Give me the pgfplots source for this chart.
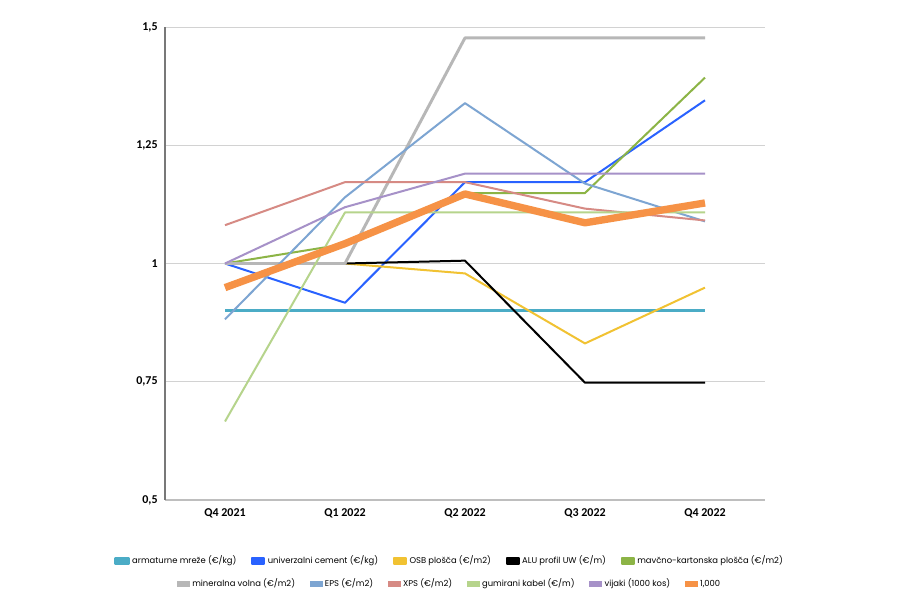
\documentclass[border=0pt]{standalone}
\usepackage{pgfplots}
\pgfplotsset{compat=1.18}
\usepackage{fontspec}
\setmainfont{Carlito}
\newfontfamily\legfont{Poppins}
\definecolor{cteal}{RGB}{75,172,198}
\definecolor{cblue}{RGB}{41,98,255}
\definecolor{cyellow}{RGB}{241,194,50}
\definecolor{cgreen}{RGB}{140,180,70}
\definecolor{cgray}{RGB}{183,183,183}
\definecolor{ceps}{RGB}{125,165,210}
\definecolor{cxps}{RGB}{214,138,132}
\definecolor{clgreen}{RGB}{182,212,140}
\definecolor{cpurple}{RGB}{166,145,200}
\definecolor{corange}{RGB}{246,146,70}
\pgfplotsset{
  mylegend/.style={
    legend columns=-1,
    legend style={draw=none, fill=none, font=\legfont\fontsize{6.3}{7}\selectfont,
      /tikz/every even column/.append style={column sep=9pt},
      inner sep=0pt},
    legend image code/.code={\fill[##1] (0pt,-2pt) rectangle (9pt,2pt);},
  }
}
\begin{document}
\begin{tikzpicture}
\path[use as bounding box, fill=white] (0,0) rectangle (675pt,450pt);
\begin{axis}[
  at={(123.75pt,75pt)}, anchor=south west,
  scale only axis, width=450pt, height=354.75pt,
  xmin=-0.5, xmax=4.5, ymin=0.5, ymax=1.5,
  xtick={0,1,2,3,4},
  xticklabels={Q4 2021,Q1 2022,Q2 2022,Q3 2022,Q4 2022},
  ytick={0.5,0.75,1,1.25,1.5},
  /pgf/number format/use comma,
  /pgf/number format/fixed,
  /pgf/number format/precision=2,
  /pgf/number format/assume math mode=true,
  ticklabel style={font=\bfseries\fontsize{9}{10}\selectfont},
  xticklabel style={yshift=-3pt},
  yticklabel style={xshift=-2pt},
  major tick length=0pt,
  axis x line=bottom, axis y line=left,
  x axis line style={-, draw={rgb,255:red,190;green,190;blue,190}, line width=0.8pt},
  y axis line style={-, draw={rgb,255:red,120;green,120;blue,120}, line width=0.8pt},
  ymajorgrids, grid style={draw={rgb,255:red,210;green,210;blue,210}, line width=0.7pt},
  mylegend,
  legend style={at={(0.475,-0.129)}, anchor=center},
  line join=round,
]
\addplot[color=cteal, line width=2.3pt] coordinates {(0,0.9) (1,0.9) (2,0.9) (3,0.9) (4,0.9)};
\addlegendentry{armaturne mreže (€/kg)}
\addplot[color=cblue, line width=1.5pt] coordinates {(0,1.0) (1,0.917) (2,1.172) (3,1.172) (4,1.345)};
\addlegendentry{univerzalni cement (€/kg)}
\addplot[color=cyellow, line width=1.5pt] coordinates {(1,1.0) (2,0.979) (3,0.831) (4,0.949)};
\addlegendentry{OSB plošča (€/m2)}
\addplot[color=black, line width=1.5pt] coordinates {(1,1.0) (2,1.006) (3,0.748) (4,0.748)};
\addlegendentry{ALU profil UW (€/m)}
\addplot[color=cgreen, line width=1.5pt] coordinates {(0,1.0) (1,1.041) (2,1.149) (3,1.149) (4,1.393)};
\addlegendentry{mavčno-kartonska plošča (€/m2)}
\addplot[color=cgray, line width=2.2pt, forget plot] coordinates {(0,1.0) (1,1.0) (2,1.477) (3,1.477) (4,1.477)};
\addplot[color=ceps, line width=1.5pt, forget plot] coordinates {(0,0.882) (1,1.14) (2,1.339) (3,1.169) (4,1.089)};
\addplot[color=cxps, line width=1.5pt, forget plot] coordinates {(0,1.081) (1,1.172) (2,1.172) (3,1.116) (4,1.091)};
\addplot[color=clgreen, line width=1.5pt, forget plot] coordinates {(0,0.666) (1,1.108) (2,1.108) (3,1.108) (4,1.108)};
\addplot[color=cpurple, line width=1.5pt, forget plot] coordinates {(0,1.0) (1,1.119) (2,1.19) (3,1.19) (4,1.19)};
\addplot[color=corange, line width=5.5pt, forget plot] coordinates {(0,0.949) (1,1.042) (2,1.147) (3,1.086) (4,1.128)};
\end{axis}
\begin{axis}[
  at={(123.75pt,75pt)}, anchor=south west,
  scale only axis, width=450pt, height=354.75pt,
  xmin=0, xmax=1, ymin=0, ymax=1, hide axis,
  mylegend,
  legend style={at={(0.475,-0.1776)}, anchor=center},
]
\addlegendimage{color=cgray}
\addlegendentry{mineralna volna (€/m2)}
\addlegendimage{color=ceps}
\addlegendentry{EPS (€/m2)}
\addlegendimage{color=cxps}
\addlegendentry{XPS (€/m2)}
\addlegendimage{color=clgreen}
\addlegendentry{gumirani kabel (€/m)}
\addlegendimage{color=cpurple}
\addlegendentry{vijaki (1000 kos)}
\addlegendimage{color=corange}
\addlegendentry{1,000}
\end{axis}
\end{tikzpicture}
\end{document}
